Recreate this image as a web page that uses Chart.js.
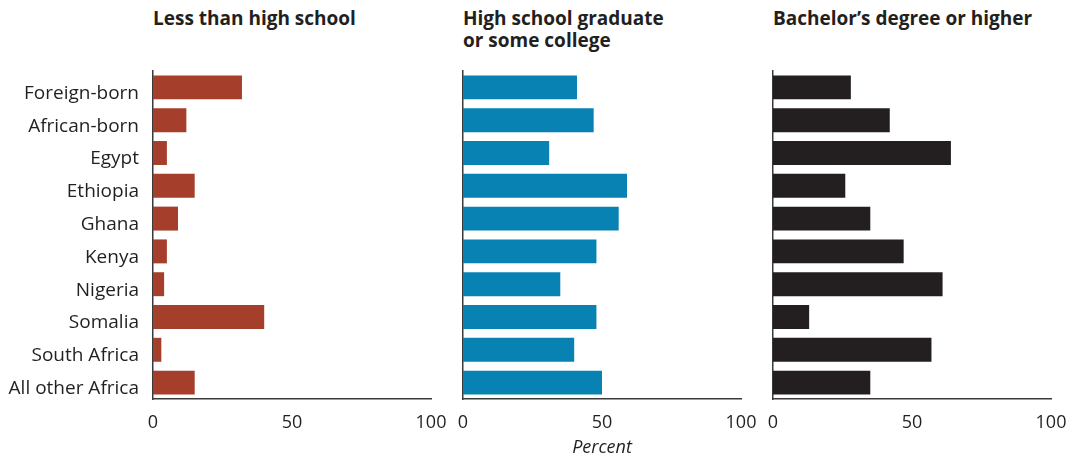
<!DOCTYPE html>
<html>
<head>
<meta charset="utf-8">
<script src="https://cdn.jsdelivr.net/npm/chart.js@4.4.1/dist/chart.umd.min.js"></script>
<style>
  body { margin: 0; background: #fff; width: 1082px; height: 466px; position: relative; overflow: hidden; font-family: "Open Sans", sans-serif; }
  canvas { position: absolute; top: 0; left: 0; }
  .title { position: absolute; top: 7px; font-weight: 700; font-size: 19px; line-height: 22px; color: #231f20; white-space: nowrap; }
</style>
</head>
<body>
<div class="title" style="left:153px">Less than high school</div>
<div class="title" style="left:463px">High school graduate<br>or some college</div>
<div class="title" style="left:773px">Bachelor’s degree or higher</div>
<canvas id="chartLess" width="1082" height="466"></canvas>
<canvas id="chartHigh" width="1082" height="466"></canvas>
<canvas id="chartBach" width="1082" height="466"></canvas>
<script>
// Education of immigrants, percent by origin
const categories = ["Foreign-born", "African-born", "Egypt", "Ethiopia", "Ghana", "Kenya", "Nigeria", "Somalia", "South Africa", "All other Africa"];
const lessThanHighSchool = [32, 12, 5, 15, 9, 5, 4, 40, 3, 15];
const highSchoolOrCollege = [41, 47, 31, 59, 56, 48, 35, 48, 40, 50];
const bachelorsOrHigher = [28, 42, 64, 26, 35, 47, 61, 13, 57, 35];
const xTicks = [0, 50, 100];

const textColor = "#231f20";
const axisColor = "#3a3a3a";

// all three canvases share the page; each panel's plot box is set with padding
function makePanel(id, values, color, opts) {
  new Chart(document.getElementById(id), {
    type: "bar",
    data: {
      labels: categories,
      datasets: [{
        data: values,
        backgroundColor: color,
        borderWidth: 0,
        categoryPercentage: 1,
        barPercentage: 0.73
      }]
    },
    options: {
      indexAxis: "y",
      responsive: false,
      animation: false,
      layout: { padding: { top: 71, right: opts.rightPad, bottom: 0, left: opts.leftPad } },
      plugins: { legend: { display: false }, tooltip: { enabled: false } },
      scales: {
        x: {
          min: 0,
          max: 100,
          afterBuildTicks: s => { s.ticks = xTicks.map(v => ({ value: v })); },
          afterFit: s => { s.height = 67; },
          grid: { display: false, drawTicks: false },
          border: { display: true, color: axisColor, width: 1.5 },
          ticks: { color: textColor, padding: 13, maxRotation: 0, font: { family: "'Open Sans'", size: 18 } },
          title: {
            display: !!opts.xTitle,
            text: opts.xTitle || "",
            color: textColor,
            padding: { top: 0, bottom: 7 },
            font: { family: "'Open Sans'", size: 18, style: "italic" }
          }
        },
        y: {
          z: 1,
          afterFit: s => { s.width = opts.yWidth; },
          grid: { display: false, drawTicks: false },
          border: { display: true, color: axisColor, width: 1.5 },
          ticks: {
            display: opts.showLabels,
            color: textColor,
            padding: 14,
            labelOffset: 6,
            font: { family: "'Open Sans'", size: 19 }
          }
        }
      }
    }
  });
}

makePanel("chartLess", lessThanHighSchool, "#a53f2c", { leftPad: 0, yWidth: 153, rightPad: 651, showLabels: true });
makePanel("chartHigh", highSchoolOrCollege, "#0782b3", { leftPad: 450, yWidth: 13, rightPad: 341, showLabels: false, xTitle: "Percent" });
makePanel("chartBach", bachelorsOrHigher, "#231f20", { leftPad: 760, yWidth: 13, rightPad: 31, showLabels: false });
</script>
</body>
</html>
